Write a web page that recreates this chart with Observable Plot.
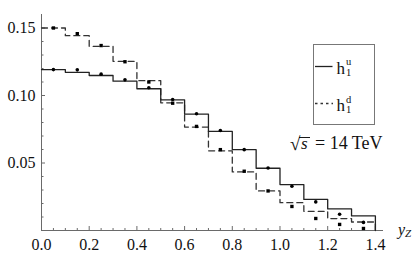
<!DOCTYPE html>
<html>
<head>
<meta charset="utf-8">
<script src="https://cdn.jsdelivr.net/npm/d3@7"></script>
<script src="https://cdn.jsdelivr.net/npm/@observablehq/plot@0.6"></script>
<style>
  body { margin: 0; background: #fff; }
  #chart { width: 415px; height: 259px; }
</style>
</head>
<body>
<div id="chart"></div>
<script>
// bins (lower edges, width 0.1) of y_Z
const binStart = [0.0, 0.1, 0.2, 0.3, 0.4, 0.5, 0.6, 0.7, 0.8, 0.9, 1.0, 1.1, 1.2, 1.3];
const binWidth = 0.1;
// histogram heights
const hU = [0.1192, 0.1172, 0.1148, 0.1106, 0.1050, 0.0968, 0.0862, 0.0734, 0.0599, 0.0461, 0.0340, 0.0230, 0.0160, 0.0108];
const hD = [0.1500, 0.1443, 0.1364, 0.1253, 0.1110, 0.0946, 0.0766, 0.0590, 0.0434, 0.0293, 0.0206, 0.0142, 0.0088, 0.0063];
// points at bin centres
const dotU = [0.1192, 0.1190, 0.1158, 0.1116, 0.1057, 0.0970, 0.0865, 0.0741, 0.0599, 0.0463, 0.0328, 0.0212, 0.0120, 0.0060];
const dotD = [0.1500, 0.1458, 0.1370, 0.1250, 0.1100, 0.0943, 0.0771, 0.0599, 0.0439, 0.0293, 0.0178, 0.0089, 0.0045, 0.0015];
// ticks
const xTicks = [0.0, 0.2, 0.4, 0.6, 0.8, 1.0, 1.2, 1.4];
const xMinor = [0.05, 0.1, 0.15, 0.25, 0.3, 0.35, 0.45, 0.5, 0.55, 0.65, 0.7, 0.75, 0.85, 0.9, 0.95, 1.05, 1.1, 1.15, 1.25, 1.3, 1.35];
const yTicks = [0.05, 0.10, 0.15];
const yMinor = [0.01, 0.02, 0.03, 0.04, 0.06, 0.07, 0.08, 0.09, 0.11, 0.12, 0.13, 0.14];

// pick an installed Times-like serif font
function pickFont(cands) {
  const ctx = document.createElement("canvas").getContext("2d");
  const sample = "0.15 Tev hhd WWmmil";
  const w = f => { ctx.font = "40px " + f; return ctx.measureText(sample).width; };
  const mono = w("monospace"), sans = w("sans-serif");
  for (const c of cands) {
    const a = w(`"${c}", monospace`), b = w(`"${c}", sans-serif`);
    if (a !== mono || b !== sans) return c;
  }
  return "serif";
}
const serifFont = pickFont(["Liberation Serif", "Times New Roman", "Tinos", "Nimbus Roman", "Nimbus Roman No9 L", "FreeSerif", "Noto Serif", "DejaVu Serif"]);
const fontStack = `"${serifFont}", serif`;
const css = document.createElement("style");
css.textContent = `#chart svg text, #chart svg tspan { font-family: ${fontStack} !important; }`;
document.head.appendChild(css);

function steps(vals) {
  const pts = binStart.map((x, i) => ({x, y: vals[i]}));
  const last = binStart[binStart.length - 1] + binWidth;
  pts.push({x: last, y: vals[vals.length - 1]});
  pts.push({x: last, y: 0});
  return pts;
}
const dotsU = binStart.map((x, i) => ({x: x + binWidth / 2, y: dotU[i]}));
const dotsD = binStart.map((x, i) => ({x: x + binWidth / 2, y: dotD[i]}));

const axisColor = "#6a6a6a";
const svg = Plot.plot({
  width: 415,
  height: 259,
  marginLeft: 41,
  marginRight: 32,
  marginTop: 14,
  marginBottom: 29,
  style: {fontSize: "16px", color: "#000", background: "#fff", fontFamily: fontStack},
  x: {domain: [0, 1.434]},
  y: {domain: [0, 0.16]},
  marks: [
    Plot.ruleY([0], {stroke: axisColor, strokeWidth: 1}),
    Plot.ruleX([0], {stroke: axisColor, strokeWidth: 1}),
    Plot.axisX(xTicks, {tickSize: -4, tickPadding: 12, stroke: axisColor, tickFormat: d3.format(".1f"), fontSize: 16, fill: "#111", label: null}),
    Plot.axisX(xMinor, {tickSize: -2, stroke: axisColor, tickFormat: () => "", label: null}),
    Plot.axisY(yTicks, {tickSize: -4, tickPadding: 10, stroke: axisColor, tickFormat: d3.format(".2f"), fontSize: 16, fill: "#111", label: null}),
    Plot.axisY(yMinor, {tickSize: -2.5, stroke: axisColor, tickFormat: () => "", label: null}),
    Plot.line(steps(hD), {x: "x", y: "y", curve: "step-after", stroke: "#333", strokeWidth: 1.3, strokeDasharray: "6,4"}),
    Plot.line(steps(hU), {x: "x", y: "y", curve: "step-after", stroke: "#222", strokeWidth: 1.3}),
    Plot.dot(dotsU, {x: "x", y: "y", r: 1.8, fill: "#000", symbol: "circle"}),
    Plot.dot(dotsD, {x: "x", y: "y", r: 1.9, fill: "#000", symbol: "square"})
  ]
});
document.getElementById("chart").appendChild(svg);

// annotations: legend, energy label, axis label
const s = d3.select(svg);
const g = s.append("g").attr("fill", "#111").attr("text-anchor", "start");
g.append("rect").attr("x", 313.5).attr("y", 44.5).attr("width", 61).attr("height", 80)
  .attr("fill", "#fff").attr("stroke", "#777").attr("stroke-width", 1);
g.append("line").attr("x1", 315).attr("x2", 332.5).attr("y1", 66.5).attr("y2", 66.5)
  .attr("stroke", "#222").attr("stroke-width", 1.3);
g.append("line").attr("x1", 315).attr("x2", 333).attr("y1", 103.5).attr("y2", 103.5)
  .attr("stroke", "#333").attr("stroke-width", 1.3).attr("stroke-dasharray", "2.5,3");
const entries = [{sup: "u", base: 73.5}, {sup: "d", base: 111}];
for (const e of entries) {
  g.append("text").attr("x", 336.5).attr("y", e.base).attr("font-size", 17).text("h");
  g.append("text").attr("x", 346).attr("y", e.base - 8.5).attr("font-size", 10.5).text(e.sup);
  g.append("text").attr("x", 346).attr("y", e.base + 2).attr("font-size", 10.5).text("1");
}
// sqrt(s) = 14 TeV
g.append("text").attr("x", 290).attr("y", 150).attr("font-size", 19).text("\u221A");
g.append("line").attr("x1", 299).attr("x2", 310).attr("y1", 137.5).attr("y2", 137.5)
  .attr("stroke", "#000").attr("stroke-width", 0.9);
g.append("text").attr("x", 301).attr("y", 149).attr("font-size", 17).attr("font-style", "italic").text("s");
g.append("text").attr("x", 315).attr("y", 149).attr("font-size", 18).text("= 14 TeV");
// axis label y_Z
const yl = g.append("text").attr("x", 398).attr("y", 235).attr("font-size", 16).attr("font-style", "italic");
yl.append("tspan").text("y");
yl.append("tspan").attr("font-size", 11).attr("dy", 2).text("Z");
</script>
</body>
</html>
